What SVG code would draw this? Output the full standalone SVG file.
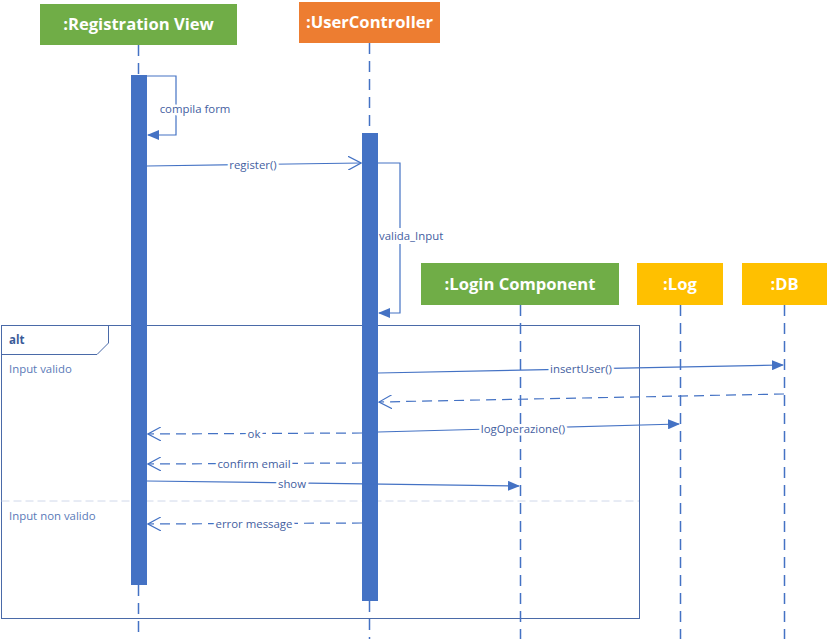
<svg xmlns="http://www.w3.org/2000/svg" width="828" height="639" viewBox="0 0 828 639">
<style>
.hdr{font-family:"Open Sans","Liberation Sans",sans-serif;font-weight:700;font-size:16.6px;fill:#fff;text-anchor:middle}
.life{stroke:#4472C4;stroke-width:1.5;stroke-dasharray:11 7;fill:none}
.bar{fill:#4472C4}
.msg{stroke:#4472C4;stroke-width:1.2;fill:none}
.ret{stroke:#4472C4;stroke-width:1.2;fill:none;stroke-dasharray:10 6}
.lbl{font-family:"Open Sans","Liberation Sans",sans-serif;font-size:11.4px;fill:#44609F;text-anchor:middle;paint-order:stroke;stroke:#fff;stroke-width:5px;stroke-linejoin:round}
.frm{font-family:"Open Sans","Liberation Sans",sans-serif;font-size:11.4px;fill:#5A7AB8}
</style>
<defs>
<marker id="fill" markerWidth="12" markerHeight="10" refX="11" refY="5" orient="auto" markerUnits="userSpaceOnUse"><path d="M0,0 L12,5 L0,10 Z" fill="#4472C4"/></marker>
<marker id="open" markerWidth="14" markerHeight="14" refX="13" refY="7" orient="auto" markerUnits="userSpaceOnUse"><path d="M0,0 L13,7 L0,14" fill="none" stroke="#4472C4" stroke-width="1.2"/></marker>
</defs>
<rect width="828" height="639" fill="#fff"/>

<g id="frame">
<rect x="1.5" y="325.5" width="638" height="293" fill="none" stroke="#4A6AA8" stroke-width="1"/>
<path d="M1.5,354.5 H97 L108.5,343 V325.5" fill="none" stroke="#4A6AA8" stroke-width="1"/>
<text x="9" y="344" font-family="Open Sans,Liberation Sans,sans-serif" font-size="11.5px" font-weight="700" fill="#3A5A98">alt</text>
<text class="frm" x="9" y="373">Input valido</text>
<line x1="1.5" y1="501" x2="639" y2="501" stroke="#D0D8EA" stroke-width="1" stroke-dasharray="8 4"/>
<text class="frm" x="9" y="520">Input non valido</text>
</g>

<g id="registration-view">
<rect x="40" y="4" width="197" height="41" fill="#70AD47"/>
<text class="hdr" x="138.5" y="30">:Registration View</text>
<line class="life" x1="138.5" y1="45" x2="138.5" y2="639"/>
<rect class="bar" x="131" y="75" width="16" height="510"/>
</g>

<g id="user-controller">
<rect x="299" y="2" width="141" height="41" fill="#ED7D31"/>
<text class="hdr" x="369.5" y="28">:UserController</text>
<line class="life" x1="369.5" y1="43" x2="369.5" y2="639"/>
<rect class="bar" x="362" y="133" width="16" height="468"/>
</g>

<g id="login-component">
<rect x="421" y="263" width="198" height="42" fill="#70AD47"/>
<text class="hdr" x="520" y="290">:Login Component</text>
<line class="life" x1="520.5" y1="305" x2="520.5" y2="639"/>
</g>

<g id="log">
<rect x="637" y="263" width="86" height="42" fill="#FFC000"/>
<text class="hdr" x="680" y="290">:Log</text>
<line class="life" x1="680.5" y1="305" x2="680.5" y2="639"/>
</g>

<g id="db">
<rect x="742" y="263" width="85" height="42" fill="#FFC000"/>
<text class="hdr" x="784.5" y="290">:DB</text>
<line class="life" x1="784.5" y1="305" x2="784.5" y2="639"/>
</g>

<g id="connectors">
<path class="msg" d="M147,76 H176 V135 H148" marker-end="url(#fill)"/>
<text class="lbl" x="195" y="113">compila form</text>

<line class="msg" x1="147" y1="166" x2="361" y2="163" marker-end="url(#open)"/>
<text class="lbl" x="253" y="169">register()</text>

<path class="msg" d="M378,163 H400 V313 H379" marker-end="url(#fill)"/>
<rect x="379" y="228" width="24" height="16" fill="#fff"/>
<text x="379" y="240" font-family="Open Sans,Liberation Sans,sans-serif" font-size="11.4px" fill="#44609F">valida_Input</text>

<line class="msg" x1="378" y1="373" x2="783" y2="365" marker-end="url(#fill)"/>
<text class="lbl" x="581" y="373">insertUser()</text>

<line class="ret" x1="784" y1="394" x2="379" y2="402" marker-end="url(#open)"/>

<line class="msg" x1="378" y1="432" x2="679" y2="424" marker-end="url(#fill)"/>
<text class="lbl" x="523" y="433">logOperazione()</text>

<line class="ret" x1="362" y1="433" x2="148" y2="434" marker-end="url(#open)"/>
<text class="lbl" x="254" y="438">ok</text>

<line class="ret" x1="362" y1="463" x2="148" y2="464" marker-end="url(#open)"/>
<text class="lbl" x="254" y="468">confirm email</text>

<line class="msg" x1="147" y1="481" x2="519" y2="486" marker-end="url(#fill)"/>
<text class="lbl" x="292" y="488">show</text>

<line class="ret" x1="362" y1="523" x2="148" y2="524" marker-end="url(#open)"/>
<text class="lbl" x="254" y="528">error message</text>
</g>
</svg>
